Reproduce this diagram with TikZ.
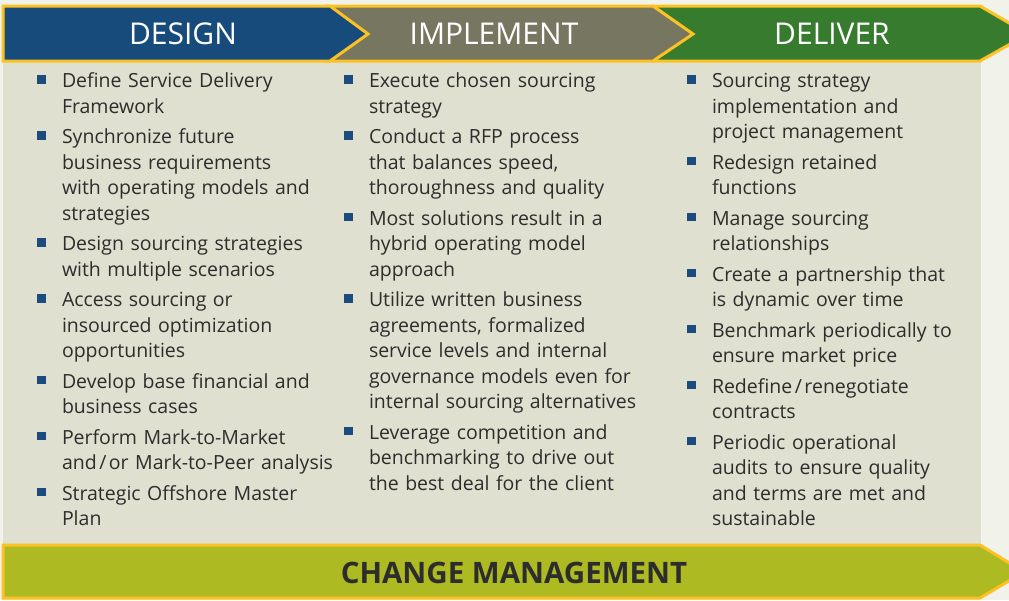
\documentclass[tikz,border=0pt]{standalone}
\usepackage{fontspec}
\setmainfont{Open Sans}
\usetikzlibrary{positioning}
\definecolor{pagebg}{RGB}{241,242,234}
\definecolor{panelbg}{RGB}{223,224,208}
\definecolor{designblue}{RGB}{23,75,123}
\definecolor{implementgrey}{RGB}{119,118,96}
\definecolor{delivergreen}{RGB}{55,123,46}
\definecolor{changelime}{RGB}{173,186,33}
\definecolor{edgeyellow}{RGB}{252,194,35}
\definecolor{bodytext}{RGB}{45,45,45}
\definecolor{bulletblue}{RGB}{27,76,125}

\newcommand{\itembullet}{\makebox[0pt][r]{\textcolor{bulletblue}{\rule[4pt]{9pt}{8.5pt}}\hspace{16pt}}}

\begin{document}
\begin{tikzpicture}[x=1pt, y=-1pt, node distance=5pt,
    every node/.style={inner sep=0pt, outer sep=0pt},
    bullettext/.style={anchor=north west, align=left, text width=#1, text=bodytext, font=\fontsize{19.5}{25.5}\selectfont},
    header/.style={text=white, font=\fontsize{30}{36}\selectfont},
    banner/.style={draw=edgeyellow, line width=3pt, line join=miter}]

        \useasboundingbox (0,0) rectangle (1009,600);
        \clip (0,0) rectangle (1009,600);
        \fill[pagebg] (0,0) rectangle (1009,600);

        % Light panel behind the columns
        \fill[panelbg] (3,60) rectangle (981,545);

        % Top banners, drawn right to left
        \filldraw[banner, fill=delivergreen] (653,6) -- (980,6) -- (1028,34) -- (980,61) -- (653,61) -- cycle;
        \filldraw[banner, fill=implementgrey] (327,6) -- (653,6) -- (693,34) -- (653,61) -- (327,61) -- cycle;
        \filldraw[banner, fill=designblue] (3,6) -- (330,6) -- (368,34) -- (330,61) -- (3,61) -- cycle;

        % Bottom banner
        \filldraw[banner, fill=changelime] (3,545) -- (980,545) -- (1024,572) -- (980,598) -- (3,598) -- cycle;

        \node[header] (design) at (183,34) {DESIGN};
        \node[header] (implement) at (494,34) {IMPLEMENT};
        \node[header] (deliver) at (832,34) {DELIVER};
        \node[text=bodytext, font=\fontsize{29.5}{36}\selectfont\bfseries] (change) at (514,573) {CHANGE MANAGEMENT};

        % Design column
        \node[bullettext=280pt] (d1) at (62,70) {\strut\itembullet Define Service Delivery\\Framework\strut};
        \node[bullettext=280pt, below=of d1] (d2) {\strut\itembullet Synchronize future\\business requirements\\with operating models and\\strategies\strut};
        \node[bullettext=280pt, below=of d2] (d3) {\strut\itembullet Design sourcing strategies\\with multiple scenarios\strut};
        \node[bullettext=280pt, below=of d3] (d4) {\strut\itembullet Access sourcing or\\insourced optimization\\opportunities\strut};
        \node[bullettext=280pt, below=of d4] (d5) {\strut\itembullet Develop base financial and\\business cases\strut};
        \node[bullettext=280pt, below=of d5] (d6) {\strut\itembullet Perform Mark-to-Market\\and\kern2.5pt/\kern2.5pt or Mark-to-Peer analysis\strut};
        \node[bullettext=280pt, below=of d6] (d7) {\strut\itembullet Strategic Offshore Master\\Plan\strut};

        % Implement column
        \node[bullettext=300pt] (i1) at (369,70) {\strut\itembullet Execute chosen sourcing\\strategy\strut};
        \node[bullettext=300pt, below=of i1] (i2) {\strut\itembullet Conduct a RFP process\\that balances speed,\\thoroughness and quality\strut};
        \node[bullettext=300pt, below=of i2] (i3) {\strut\itembullet Most solutions result in a\\hybrid operating model\\approach\strut};
        \node[bullettext=300pt, below=of i3] (i4) {\strut\itembullet Utilize written business\\agreements, formalized\\service levels and internal\\governance models even for\\internal sourcing alternatives\strut};
        \node[bullettext=300pt, below=of i4] (i5) {\strut\itembullet Leverage competition and\\benchmarking to drive out\\the best deal for the client\strut};

        % Deliver column
        \node[bullettext=290pt] (v1) at (712,70) {\strut\itembullet Sourcing strategy\\implementation and\\project management\strut};
        \node[bullettext=290pt, below=of v1] (v2) {\strut\itembullet Redesign retained\\functions\strut};
        \node[bullettext=290pt, below=of v2] (v3) {\strut\itembullet Manage sourcing\\relationships\strut};
        \node[bullettext=290pt, below=of v3] (v4) {\strut\itembullet Create a partnership that\\is dynamic over time\strut};
        \node[bullettext=290pt, below=of v4] (v5) {\strut\itembullet Benchmark periodically to\\ensure market price\strut};
        \node[bullettext=290pt, below=of v5] (v6) {\strut\itembullet Redefine\kern2.5pt/\kern2.5pt renegotiate\\contracts\strut};
        \node[bullettext=290pt, below=of v6] (v7) {\strut\itembullet Periodic operational\\audits to ensure quality\\and terms are met and\\sustainable\strut};

\end{tikzpicture}
\end{document}
